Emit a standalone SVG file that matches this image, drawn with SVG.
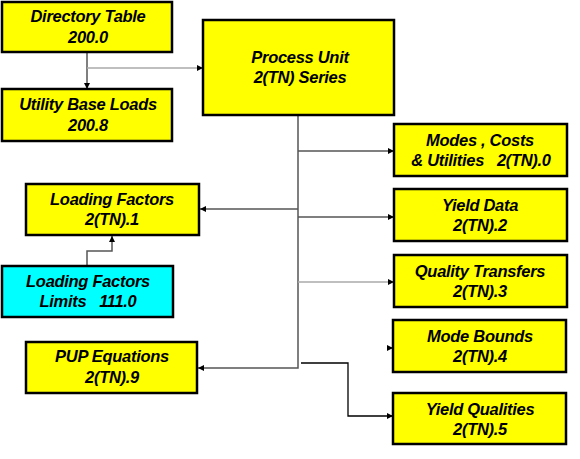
<svg xmlns="http://www.w3.org/2000/svg" width="580" height="459" viewBox="0 0 580 459">
<defs>
<style>
.box{fill:#ffff00;stroke:#000;stroke-width:2.5}
.cyan{fill:#00ffff;stroke:#000;stroke-width:2.5}
.t{font-family:"Liberation Sans",Arial,sans-serif;font-size:16.5px;font-weight:bold;font-style:italic;fill:#000;text-anchor:middle;white-space:pre;letter-spacing:-0.3px}
.c{fill:none;stroke:#555;stroke-width:1.5}
.lt{stroke:#aaa}
.bk{stroke:#000;stroke-width:1.3}
</style>
<marker id="ah" viewBox="0 0 10 10" refX="10" refY="5" markerWidth="6" markerHeight="6" markerUnits="userSpaceOnUse" orient="auto">
<path d="M0,0 L10,5 L0,10 z" fill="#000"/>
</marker>
</defs>
<rect width="580" height="459" fill="#fff"/>
<g id="connectors">
<path class="c" d="M87,52 V89" marker-end="url(#ah)"/>
<path class="c lt" d="M87,68 H203" marker-end="url(#ah)"/>
<path class="c" d="M298,115 V368 H198" marker-end="url(#ah)"/>
<path class="c" d="M298,151 H394" marker-end="url(#ah)"/>
<path class="c" d="M298,209 H200" marker-end="url(#ah)"/>
<path class="c" d="M298,217 H394" marker-end="url(#ah)"/>
<path class="c lt" d="M298,282 H394" marker-end="url(#ah)"/>
<path class="c" stroke="none" d="M387,348 H393" marker-end="url(#ah)"/>
<path class="c" d="M87,266 V251 H112 V236" marker-end="url(#ah)"/>
<path class="c bk" d="M301,363 H348 V416 H393" marker-end="url(#ah)"/>
</g>
<g id="directory-table">
<rect class="box" x="2" y="2" width="170" height="50"/>
<text class="t" x="88" y="22">Directory Table</text>
<text class="t" x="88" y="43">200.0</text>
</g>
<g id="utility-base-loads">
<rect class="box" x="2" y="89" width="170" height="52"/>
<text class="t" x="88" y="110">Utility Base Loads</text>
<text class="t" x="88" y="131">200.8</text>
</g>
<g id="process-unit">
<rect class="box" x="203" y="20" width="191" height="95"/>
<text class="t" x="300" y="63">Process Unit</text>
<text class="t" x="300" y="83">2(TN) Series</text>
</g>
<g id="modes-costs">
<rect class="box" x="394" y="124" width="173" height="52"/>
<text class="t" x="480" y="146">Modes , Costs</text>
<text class="t" x="481" y="166">&amp; Utilities   2(TN).0</text>
</g>
<g id="loading-factors">
<rect class="box" x="26" y="184" width="173" height="51"/>
<text class="t" x="112" y="205">Loading Factors</text>
<text class="t" x="112" y="225">2(TN).1</text>
</g>
<g id="yield-data">
<rect class="box" x="394" y="189" width="173" height="52"/>
<text class="t" x="480" y="211">Yield Data</text>
<text class="t" x="480" y="231">2(TN).2</text>
</g>
<g id="loading-factors-limits">
<rect class="cyan" x="2" y="266" width="171" height="51"/>
<text class="t" x="88" y="287">Loading Factors</text>
<text class="t" x="88" y="307">Limits   111.0</text>
</g>
<g id="quality-transfers">
<rect class="box" x="394" y="255" width="173" height="52"/>
<text class="t" x="480" y="277">Quality Transfers</text>
<text class="t" x="480" y="297">2(TN).3</text>
</g>
<g id="mode-bounds">
<rect class="box" x="393" y="320" width="173" height="52"/>
<text class="t" x="480" y="342">Mode Bounds</text>
<text class="t" x="480" y="362">2(TN).4</text>
</g>
<g id="pup-equations">
<rect class="box" x="26" y="342" width="171" height="51"/>
<text class="t" x="112" y="362">PUP Equations</text>
<text class="t" x="112" y="383">2(TN).9</text>
</g>
<g id="yield-qualities">
<rect class="box" x="393" y="393" width="173" height="51"/>
<text class="t" x="480" y="415">Yield Qualities</text>
<text class="t" x="480" y="435">2(TN).5</text>
</g>
</svg>
